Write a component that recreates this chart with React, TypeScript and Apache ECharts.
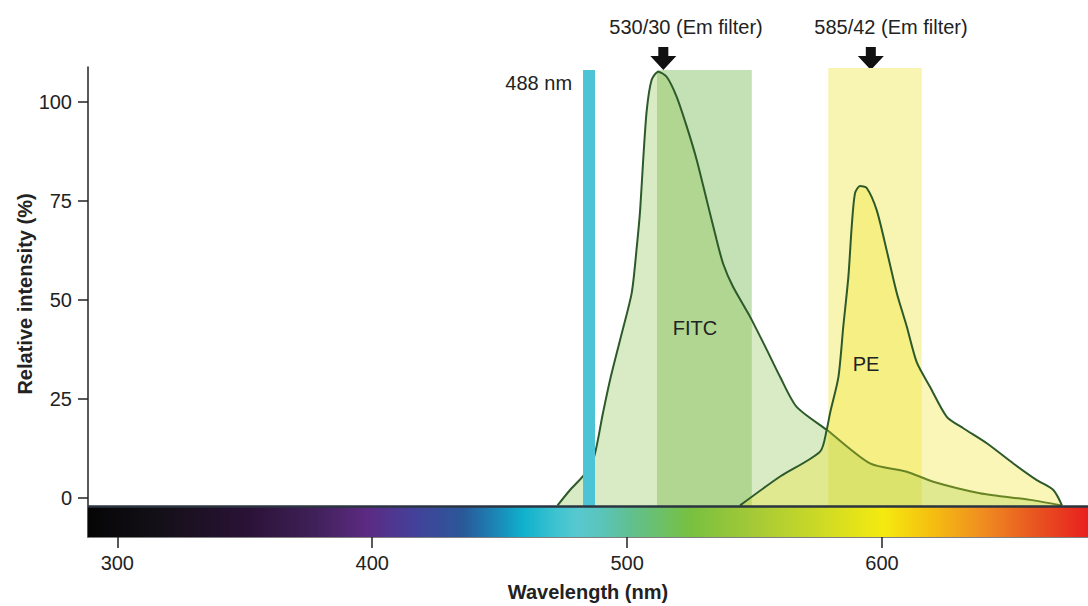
import React, { useEffect, useRef } from "react";
import * as echarts from "echarts";

// Axis ticks
const xTicks = [300, 400, 500, 600];
const yTicks = [0, 25, 50, 75, 100];

// FITC emission spectrum [wavelength nm, relative intensity %]
const fitcSpectrum: [number, number][] = [
  [472.7, -2], [477.6, 1.9], [483.1, 5.7], [487.0, 10.2], [490.5, 21.3], [493.3, 29.7],
  [497.5, 40.5], [501.8, 51.7], [503.8, 63.4], [505.1, 72.6], [506.3, 85.3], [507.7, 97.9],
  [509.6, 105.5], [512.2, 107.6], [515.5, 106.3], [519.4, 101.3], [523.4, 93.7], [527.3, 85.3],
  [531.2, 75.2], [535.1, 65.1], [537.7, 59.0], [541.5, 53.3], [548.2, 45.7], [554.8, 37.3],
  [560.0, 30.5], [566.5, 22.9], [578.3, 17.1], [595.3, 8.6], [609.7, 6.5], [620.1, 4.0],
  [638.4, 1.1], [658.1, -0.6], [670.5, -2],
];

// PE emission spectrum [wavelength nm, relative intensity %]
const peSpectrum: [number, number][] = [
  [544.3, -2], [560.0, 5.3], [575.7, 11.6], [578.3, 17.1], [579.6, 21.3], [582.9, 30.5],
  [584.8, 43.2], [586.8, 55.8], [588.1, 68.4], [589.4, 76.9], [591.4, 78.7], [594.0, 78.2],
  [597.9, 72.6], [601.8, 62.5], [605.8, 51.6], [609.7, 43.2], [613.6, 34.2], [618.8, 28.0],
  [625.4, 20.4], [631.9, 17.5], [641.1, 13.7], [651.5, 8.6], [660.7, 4.4], [667.2, 1.9],
  [670.6, -2],
];

// Filter bands [from nm, to nm]
const fitcFilter = [511.7, 548.9];
const peFilter = [578.9, 615.6];
const laserLine = [482.7, 487.4];

// Filter annotations: [arrow wavelength, label wavelength, label]
const filterNotes: [number, number, string][] = [
  [514.2, 523.1, "530/30 (Em filter)"],
  [595.6, 603.5, "585/42 (Em filter)"],
];

// Axis extents
const xRange = [288.5, 680.8];
const yRange = [-9.98, 108.77];
const baselineValue = -2.3;
const bandTop = 108.0;

const FONT = "'Liberation Sans', Arial, Helvetica, sans-serif";

const spectrumStops = [
  [0.0, "#050505"], [0.072, "#141018"], [0.159, "#2a1236"], [0.225, "#3f2058"],
  [0.279, "#5c2a82"], [0.325, "#44409a"], [0.375, "#2a5898"], [0.409, "#1a88b8"],
  [0.435, "#10b0cc"], [0.47, "#40c4d0"], [0.49, "#58c8d0"], [0.515, "#5ac4b8"],
  [0.542, "#60c090"], [0.602, "#78c040"], [0.659, "#a0c838"], [0.725, "#c8d828"],
  [0.795, "#f5ea10"], [0.842, "#f5c010"], [0.892, "#f09020"], [0.952, "#e85020"],
  [1.0, "#e82020"],
];

export default function App() {
  const ref = useRef<HTMLDivElement>(null);
  useEffect(() => {
    if (!ref.current) return;
    const chart = echarts.init(ref.current, null, { renderer: "svg" });
    const gradient = new echarts.graphic.LinearGradient(
      0, 0, 1, 0,
      spectrumStops.map(([offset, color]) => ({ offset: offset as number, color: color as string }))
    );
    const textBase = { fontFamily: FONT, fontSize: 20, color: "#222" };
    chart.setOption({
      animation: false,
      grid: { left: 88, right: 0, top: 67, bottom: 69, containLabel: false, outerBoundsMode: "none" },
      xAxis: {
        type: "value",
        min: xRange[0],
        max: xRange[1],
        name: "Wavelength (nm)",
        nameLocation: "middle",
        nameGap: 45,
        nameMoveOverlap: false,
        nameTextStyle: { ...textBase, fontWeight: "bold" },
        axisLine: { show: true, onZero: false, lineStyle: { color: "#555", width: 1.5 } },
        axisTick: { show: true, length: 11, customValues: xTicks, lineStyle: { color: "#222", width: 1.5 } },
        axisLabel: { customValues: xTicks, margin: 16, ...textBase },
        splitLine: { show: false },
      },
      yAxis: {
        type: "value",
        min: yRange[0],
        max: yRange[1],
        name: "Relative intensity (%)",
        nameLocation: "middle",
        nameGap: 53,
        nameMoveOverlap: false,
        nameTextStyle: { ...textBase, fontWeight: "bold", padding: [0, 0, 0, 16] },
        axisLine: { show: true, onZero: false, lineStyle: { color: "#222", width: 1.5 } },
        axisTick: { show: true, length: 10, customValues: yTicks, lineStyle: { color: "#222", width: 1.5 } },
        axisLabel: { customValues: yTicks, margin: 16, ...textBase },
        splitLine: { show: false },
      },
      series: [
        {
          name: "filters",
          type: "line",
          data: [],
          z: 1,
          silent: true,
          markArea: {
            silent: true,
            z: 1,
            data: [
              [
                { coord: [fitcFilter[0], baselineValue], itemStyle: { color: "#c3e1b5" } },
                { coord: [fitcFilter[1], bandTop] },
              ],
              [
                { coord: [peFilter[0], baselineValue], itemStyle: { color: "#f8f5b3" } },
                { coord: [peFilter[1], bandTop + 0.5] },
              ],
            ],
          },
        },
        {
          name: "FITC",
          type: "line",
          data: fitcSpectrum,
          z: 2,
          smooth: 0.25,
          symbol: "none",
          silent: true,
          lineStyle: { color: "#2d5a2a", width: 2 },
          areaStyle: { origin: "start", color: "rgba(135,192,70,0.45)" },
        },
        {
          name: "PE",
          type: "line",
          data: peSpectrum,
          z: 3,
          smooth: 0.25,
          symbol: "none",
          silent: true,
          lineStyle: { color: "#2d5a2a", width: 2 },
          areaStyle: { origin: "start", color: "rgba(240,225,30,0.45)" },
        },
        {
          name: "laser",
          type: "line",
          data: [],
          z: 9,
          silent: true,
          markArea: {
            silent: true,
            z: 9,
            data: [
              [
                { coord: [laserLine[0], baselineValue], itemStyle: { color: "#4cc4d6" } },
                { coord: [laserLine[1], bandTop] },
              ],
            ],
          },
        },
        {
          name: "spectrum",
          type: "line",
          data: [],
          z: 10,
          silent: true,
          markArea: {
            silent: true,
            z: 10,
            data: [
              [
                { coord: [xRange[0], yRange[0]], itemStyle: { color: gradient } },
                { coord: [xRange[1], baselineValue] },
              ],
            ],
          },
          markLine: {
            silent: true,
            z: 11,
            symbol: ["none", "none"],
            label: { show: false },
            lineStyle: { color: "#2b3540", width: 2.5, type: "solid" },
            data: [{ yAxis: baselineValue }],
          },
        },
        {
          name: "labels",
          type: "line",
          data: [],
          z: 12,
          silent: true,
          markPoint: {
            silent: true,
            z: 12,
            data: [
              { coord: [478.4, 104.7], symbol: "circle", symbolSize: 0, label: { show: true, position: "left", distance: 0, formatter: "488 nm", ...textBase } },
              { coord: [526.6, 42.8], symbol: "circle", symbolSize: 0, label: { show: true, position: "inside", formatter: "FITC", ...textBase } },
              { coord: [593.7, 33.7], symbol: "circle", symbolSize: 0, label: { show: true, position: "inside", formatter: "PE", ...textBase } },
            ],
          },
        },
      ],
    });

    // Filter arrows and titles above the plot area, anchored to wavelengths
    const graphics: any[] = [];
    filterNotes.forEach(([arrowX, labelX, text]) => {
      const a = chart.convertToPixel({ gridIndex: 0 }, [arrowX, 110.9]) as number[];
      const l = chart.convertToPixel({ gridIndex: 0 }, [labelX, 118.9]) as number[];
      graphics.push({
        type: "polygon",
        x: a[0],
        y: a[1],
        silent: true,
        shape: {
          points: [[-5, -11.5], [5, -11.5], [5, -2.5], [13, -2.5], [0, 11.5], [-13, -2.5], [-5, -2.5]],
        },
        style: { fill: "#111" },
      });
      graphics.push({
        type: "text",
        x: l[0],
        y: l[1],
        silent: true,
        style: {
          text,
          fill: "#222",
          font: `20px ${FONT}`,
          textAlign: "center",
          textVerticalAlign: "middle",
        },
      });
    });
    chart.setOption({ graphic: graphics });

    return () => chart.dispose();
  }, []);
  return (
    <div
      ref={ref}
      style={{ position: "fixed", left: 0, top: 0, width: 1088, height: 606, background: "#fff" }}
    />
  );
}
